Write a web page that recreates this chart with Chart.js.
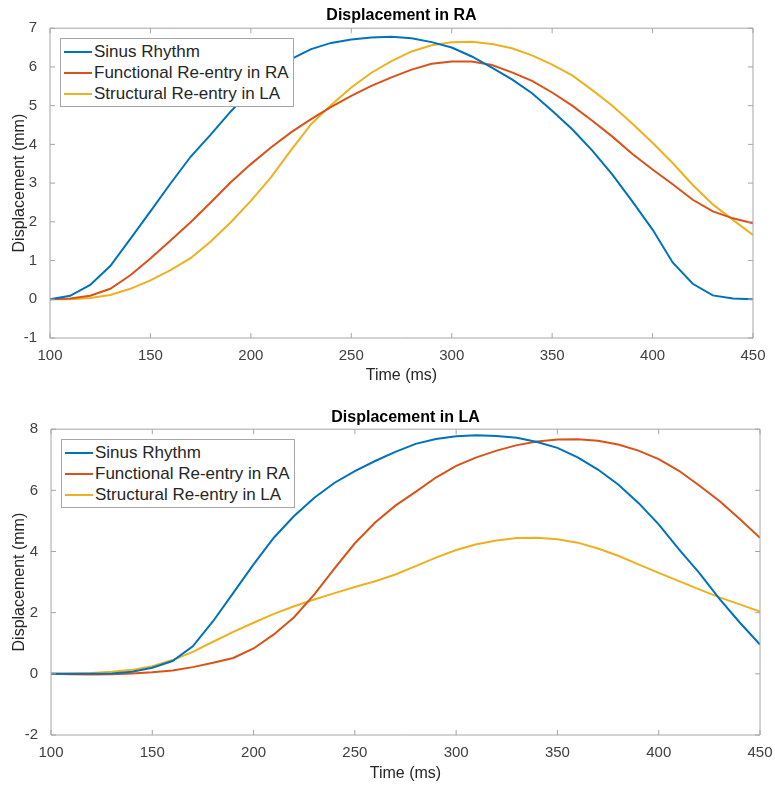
<!DOCTYPE html>
<html>
<head>
<meta charset="utf-8">
<script src="https://cdn.jsdelivr.net/npm/chart.js@4.4.2/dist/chart.umd.min.js"></script>
<style>
  body { margin: 0; background: #fff; }
  #page { position: relative; width: 775px; height: 786px; }
  .panel { position: absolute; left: 0; width: 775px; }
  .legend {
    position: absolute; background: #fff; border: 1px solid #a6a6a6;
    padding: 2px 4px 2px 3px; color: #262626;
    font: 17px "Liberation Sans", Arial, sans-serif;
  }
  .legend div { display: flex; align-items: center; height: 21px; white-space: nowrap; }
  .legend .swatch { display: inline-block; width: 28px; height: 2px; margin-right: 2px; }
</style>
</head>
<body>
<div id="page">
  <div class="panel" style="top:0;height:392px">
    <canvas id="chart-ra" width="775" height="392"></canvas>
    <div class="legend" id="legend-ra"></div>
  </div>
  <div class="panel" style="top:392px;height:394px">
    <canvas id="chart-la" width="775" height="394"></canvas>
    <div class="legend" id="legend-la"></div>
  </div>
</div>
<script>
// time axis, ms
const times = [100, 110, 120, 130, 140, 150, 160, 170, 180, 190, 200, 210, 220, 230, 240, 250, 260, 270,
               280, 290, 300, 310, 320, 330, 340, 350, 360, 370, 380, 390, 400, 410, 420, 430, 440, 450];

// displacement in RA (mm)
const raSinus = [0, 0.09, 0.37, 0.86, 1.56, 2.27, 2.99, 3.68, 4.25, 4.85, 5.4, 5.85, 6.2, 6.46, 6.62, 6.71, 6.76, 6.78,
                 6.74, 6.64, 6.5, 6.27, 5.98, 5.68, 5.32, 4.87, 4.39, 3.84, 3.22, 2.52, 1.8, 0.95, 0.4, 0.1, 0.02, 0];
const raFunctional = [0, 0.02, 0.09, 0.27, 0.62, 1.05, 1.52, 1.99, 2.5, 3.02, 3.49, 3.92, 4.31, 4.65, 4.97, 5.25, 5.51, 5.73,
                      5.93, 6.08, 6.14, 6.14, 6.05, 5.86, 5.64, 5.34, 5.0, 4.61, 4.2, 3.75, 3.35, 2.97, 2.57, 2.27, 2.09, 1.96];
const raStructural = [0, 0, 0.03, 0.11, 0.27, 0.49, 0.75, 1.06, 1.49, 1.99, 2.54, 3.15, 3.85, 4.52, 5.02, 5.47, 5.85, 6.15,
                      6.4, 6.56, 6.64, 6.65, 6.59, 6.48, 6.3, 6.06, 5.78, 5.4, 5.0, 4.53, 4.04, 3.52, 2.95, 2.45, 2.05, 1.66];

// displacement in LA (mm)
const laSinus = [0, 0, 0, 0.01, 0.07, 0.2, 0.42, 0.9, 1.72, 2.65, 3.58, 4.45, 5.16, 5.76, 6.25, 6.63, 6.96, 7.26,
                 7.52, 7.68, 7.77, 7.8, 7.78, 7.72, 7.58, 7.39, 7.08, 6.68, 6.19, 5.59, 4.89, 4.07, 3.3, 2.45, 1.68, 0.96];
const laFunctional = [0, -0.01, -0.02, -0.01, 0.01, 0.05, 0.11, 0.22, 0.36, 0.52, 0.83, 1.29, 1.85, 2.6, 3.45, 4.27, 4.95, 5.5,
                      5.95, 6.42, 6.8, 7.08, 7.3, 7.48, 7.6, 7.66, 7.67, 7.62, 7.5, 7.3, 7.02, 6.64, 6.16, 5.65, 5.06, 4.45];
const laStructural = [0, 0.01, 0.03, 0.07, 0.13, 0.25, 0.45, 0.72, 1.05, 1.37, 1.67, 1.96, 2.21, 2.43, 2.64, 2.84, 3.03, 3.25,
                      3.52, 3.8, 4.05, 4.24, 4.36, 4.44, 4.45, 4.4, 4.29, 4.1, 3.86, 3.58, 3.3, 3.03, 2.76, 2.5, 2.27, 2.04];

const seriesNames = ['Sinus Rhythm', 'Functional Re-entry in RA', 'Structural Re-entry in LA'];
const seriesColors = ['#0072BD', '#D95319', '#EDB120'];

Chart.defaults.font.family = '"Liberation Sans", Arial, sans-serif';

// box round the plot with inward ticks on all four sides
const frame = {
    id: 'frame',
    afterDatasetsDraw(chart) {
        const {ctx, chartArea: a, scales: {x, y}} = chart;
        ctx.save();
        ctx.strokeStyle = '#a6a6a6';
        ctx.lineWidth = 1;
        ctx.beginPath();
        ctx.rect(a.left, a.top, a.right - a.left, a.bottom - a.top);
        x.ticks.forEach(t => {
            const px = x.getPixelForValue(t.value);
            ctx.moveTo(px, a.bottom); ctx.lineTo(px, a.bottom - 5);
            ctx.moveTo(px, a.top); ctx.lineTo(px, a.top + 5);
        });
        y.ticks.forEach(t => {
            const py = y.getPixelForValue(t.value);
            ctx.moveTo(a.left, py); ctx.lineTo(a.left + 5, py);
            ctx.moveTo(a.right, py); ctx.lineTo(a.right - 5, py);
        });
        ctx.stroke();
        ctx.restore();
    }
};

function render_chart(id, title, series, yMin, yMax, yStep, g) {
    const ctx = document.getElementById(`chart-${id}`);

    const datasets = series.map((vals, i) => ({
        label: seriesNames[i],
        data: vals.map((v, k) => ({x: times[k], y: v})),
        borderColor: seriesColors[i],
        borderWidth: 2,
        pointRadius: 0,
        tension: 0,
        fill: false
    }));

    const chart = new Chart(ctx, {
        type: 'line',
        data: {datasets},
        plugins: [frame],
        options: {
            responsive: false,
            animation: false,
            events: [],
            layout: {padding: {left: 0, right: g.right, top: 0, bottom: 0}},
            plugins: {
                legend: {display: false},
                tooltip: {enabled: false},
                title: {
                    display: true,
                    text: title,
                    fullSize: false,
                    color: '#000',
                    font: {size: 16, weight: 'bold'},
                    padding: {top: g.titleTop, bottom: g.titleBottom}
                }
            },
            scales: {
                x: {
                    type: 'linear',
                    min: 100,
                    max: 450,
                    ticks: {stepSize: 50, color: '#404040', font: {size: 15}, padding: g.xPad, maxRotation: 0},
                    grid: {display: false},
                    border: {display: false},
                    title: {display: true, text: 'Time (ms)', color: '#262626', font: {size: 16}, padding: {top: 0, bottom: g.xTitle}},
                    afterFit(scale) { scale.height = g.xHeight; }
                },
                y: {
                    min: yMin,
                    max: yMax,
                    ticks: {stepSize: yStep, color: '#404040', font: {size: 15}, padding: 5},
                    grid: {display: false},
                    border: {display: false},
                    title: {display: true, text: 'Displacement (mm)', color: '#262626', font: {size: 16}, padding: {top: 10, bottom: 0}},
                    afterFit(scale) { scale.width = g.yWidth; }
                }
            }
        }
    });

    const legend = document.getElementById(`legend-${id}`);
    legend.innerHTML = seriesNames.map((name, i) =>
        `<div><span class="swatch" style="background:${seriesColors[i]}"></span>${name}</div>`).join('');
    legend.style.left = (chart.chartArea.left + 10) + 'px';
    legend.style.top = (chart.chartArea.top + 10) + 'px';
}

render_chart('ra', 'Displacement in RA', [raSinus, raFunctional, raStructural], -1, 7, 1,
    {right: 22, titleTop: 6, titleBottom: 3, xHeight: 54, xPad: 1, xTitle: 7, yWidth: 50});
render_chart('la', 'Displacement in LA', [laSinus, laFunctional, laStructural], -2, 8, 2,
    {right: 15, titleTop: 16, titleBottom: 2, xHeight: 51, xPad: 1, xTitle: 3, yWidth: 51});
</script>
</body>
</html>
